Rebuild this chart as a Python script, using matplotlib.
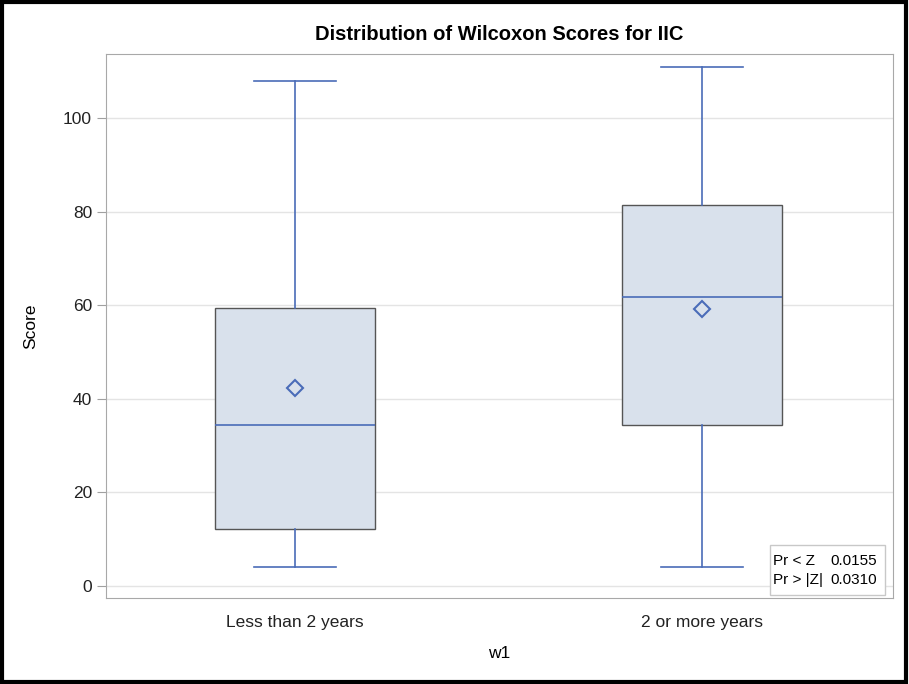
import matplotlib
matplotlib.use("Agg")
import matplotlib.pyplot as plt
from matplotlib.patches import Rectangle

plt.rcParams['font.family'] = ['Liberation Sans', 'DejaVu Sans']

# data
groups = ["Less than 2 years", "2 or more years"]
whisker_low = [4.0, 4.0]
q1 = [12.2, 34.4]
median = [34.4, 61.8]
q3 = [59.4, 81.4]
whisker_high = [107.9, 110.9]
means = [42.2, 59.1]
pvals = [("Pr < Z", "0.0155"), ("Pr > |Z|", "0.0310")]

stats = []
for i in range(len(groups)):
    stats.append({"whislo": whisker_low[i], "q1": q1[i], "med": median[i],
                  "q3": q3[i], "whishi": whisker_high[i], "mean": means[i],
                  "fliers": [], "label": groups[i]})

blue = "#4a6cb8"
fill = "#d9e1ec"
edge = "#555555"

fig = plt.figure(figsize=(9.09, 6.84), dpi=100)
ax = fig.add_axes([0.1166, 0.1257, 0.8658, 0.7953])

ax.bxp(stats, positions=range(len(groups)), widths=0.395, patch_artist=True,
       showmeans=True, showfliers=False,
       boxprops=dict(facecolor=fill, edgecolor=edge, linewidth=1),
       medianprops=dict(color=blue, linewidth=1.2),
       whiskerprops=dict(color=blue, linewidth=1.2),
       capprops=dict(color=blue, linewidth=1.2),
       meanprops=dict(marker="D", markersize=8, markerfacecolor=fill,
                      markeredgecolor=blue, markeredgewidth=1.5),
       capwidths=0.2)

ax.set_xlim(-0.465, 1.47)
ax.set_ylim(-2.6, 113.7)
ax.set_yticks([0, 20, 40, 60, 80, 100])
ax.yaxis.grid(True, color="#e4e4e4", linewidth=1)
ax.set_axisbelow(True)
ax.tick_params(axis="x", length=0, labelsize=12.5, pad=12, colors="#222222")
ax.tick_params(axis="y", length=6.5, color="#a0a0a0", labelsize=12.5, colors="#222222")
for s in ax.spines.values():
    s.set_color("#a8a8a8")
ax.set_xlabel("w1", fontsize=12.5, labelpad=12)
ax.set_ylabel("Score", fontsize=12.5, labelpad=18)
ax.set_title("Distribution of Wilcoxon Scores for IIC", fontsize=14.5,
             fontweight="bold", pad=10)

# p-value inset
ax.text(0.8475, 0.02, "\n".join(a for a, b in pvals), transform=ax.transAxes,
        fontsize=11, va="bottom", ha="left", linespacing=1.5, zorder=3)
ax.text(0.9797, 0.02, "\n".join(b for a, b in pvals), transform=ax.transAxes,
        fontsize=11, va="bottom", ha="right", linespacing=1.5, zorder=3)
ax.add_patch(Rectangle((0.8437, 0.0055), 0.1461, 0.0919, transform=ax.transAxes,
                       facecolor="white", edgecolor="#c8c8c8", linewidth=1, zorder=2.5))

# outer black frame
fig.patches.append(Rectangle((0.002, 0.003), 0.995, 0.994, transform=fig.transFigure,
                             fill=False, edgecolor="black", linewidth=3))

fig.savefig("out.png", dpi=100)
